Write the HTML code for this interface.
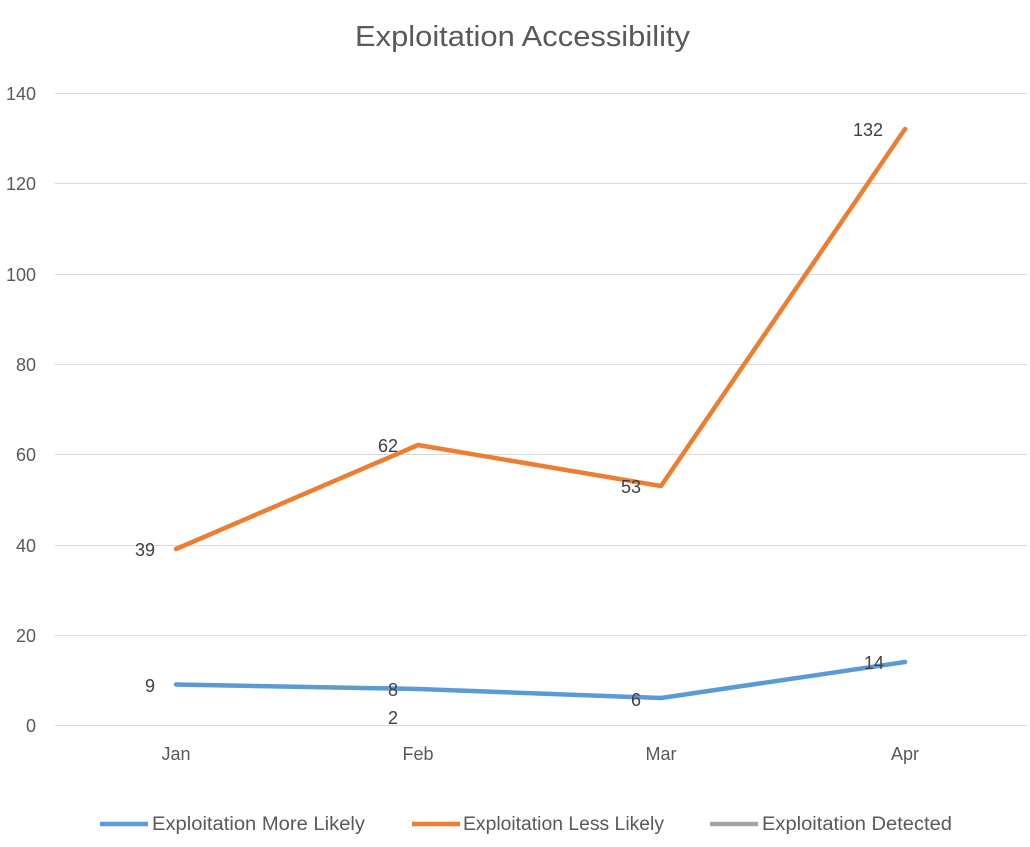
<!DOCTYPE html>
<html><head><meta charset="utf-8"><style>
html,body{margin:0;padding:0;background:#fff;}
svg{display:block;font-family:"Liberation Sans",sans-serif;}
</style></head><body>
<svg width="1030" height="847" viewBox="0 0 1030 847">
<rect width="1030" height="847" fill="#fff"/>
<text x="355" y="46" font-size="29" fill="#595959" textLength="335" lengthAdjust="spacingAndGlyphs">Exploitation Accessibility</text>
<g stroke="#d9d9d9" stroke-width="1">
<line x1="55" x2="1027" y1="93.5" y2="93.5"/>
<line x1="55" x2="1027" y1="183.5" y2="183.5"/>
<line x1="55" x2="1027" y1="274.5" y2="274.5"/>
<line x1="55" x2="1027" y1="364.5" y2="364.5"/>
<line x1="55" x2="1027" y1="454.5" y2="454.5"/>
<line x1="55" x2="1027" y1="545.5" y2="545.5"/>
<line x1="55" x2="1027" y1="635.5" y2="635.5"/>
<line x1="55" x2="1027" y1="725.5" y2="725.5"/>
</g>
<g font-size="18" fill="#595959" text-anchor="end">
<text x="36" y="100">140</text>
<text x="36" y="190">120</text>
<text x="36" y="281">100</text>
<text x="36" y="371">80</text>
<text x="36" y="461">60</text>
<text x="36" y="552">40</text>
<text x="36" y="642">20</text>
<text x="36" y="732">0</text>
</g>
<g font-size="18" fill="#595959" text-anchor="middle">
<text x="176" y="760">Jan</text>
<text x="418" y="760">Feb</text>
<text x="661" y="760">Mar</text>
<text x="905" y="760">Apr</text>
</g>
<polyline points="176,549 418,445 661,486 905,129" fill="none" stroke="#ed7d31" stroke-width="4.5" stroke-linejoin="round" stroke-linecap="round"/>
<polyline points="176,684.5 418,689 661,698 905,662" fill="none" stroke="#5b9bd5" stroke-width="4.5" stroke-linejoin="round" stroke-linecap="round"/>
<g font-size="18" fill="#404040" text-anchor="middle">
<text x="145" y="556">39</text>
<text x="388" y="452">62</text>
<text x="631" y="493">53</text>
<text x="868" y="136">132</text>
<text x="150" y="692">9</text>
<text x="393" y="696">8</text>
<text x="636" y="706">6</text>
<text x="874" y="669">14</text>
<text x="393" y="724">2</text>
</g>
<g font-size="19" fill="#595959">
<line x1="100" x2="148" y1="824" y2="824" stroke="#5b9bd5" stroke-width="4.5"/>
<text x="152" y="830" textLength="213" lengthAdjust="spacingAndGlyphs">Exploitation More Likely</text>
<line x1="412" x2="460" y1="824" y2="824" stroke="#ed7d31" stroke-width="4.5"/>
<text x="463" y="830" textLength="201" lengthAdjust="spacingAndGlyphs">Exploitation Less Likely</text>
<line x1="710" x2="758" y1="824" y2="824" stroke="#a5a5a5" stroke-width="4.5"/>
<text x="762" y="830" textLength="190" lengthAdjust="spacingAndGlyphs">Exploitation Detected</text>
</g>
</svg>
</body></html>
